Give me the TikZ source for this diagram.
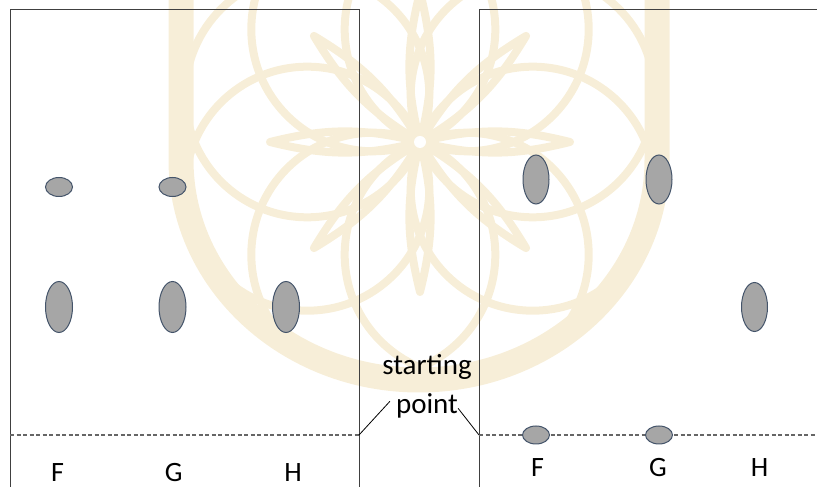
\documentclass[tikz,border=0pt]{standalone}
\usepackage{fontspec}
\setmainfont{Carlito}
\usetikzlibrary{shapes.geometric}
\definecolor{spotfill}{RGB}{166,166,166}
\definecolor{spotline}{RGB}{68,84,106}
\definecolor{seed}{RGB}{247,238,216}

\begin{document}
\begin{tikzpicture}[x=1pt, y=1pt,
    spot/.style={ellipse, draw=spotline, fill=spotfill, line width=1pt, inner sep=0pt},
    lane/.style={draw=black!75, line width=0.8pt},
    front/.style={draw=black!60, line width=1.4pt, dash pattern=on 4pt off 2.5pt},
    lbl/.style={font=\fontsize{28}{30}\selectfont, anchor=base, inner sep=0pt},
    seedline/.style={draw=seed, line width=8pt, line join=round}]
\useasboundingbox (0,0) rectangle (817,487);

% seed of life in the back
\begin{scope}
\clip (0,0) rectangle (817,487);
\draw[draw=seed, line width=25pt] (181,497) -- (181,327)
    arc[start angle=180, end angle=360, x radius=238, y radius=220] -- (657,497);
\foreach \a in {22.5,67.5,...,337.5}
    \draw[seedline] (420,345) ++(\a:122) circle[radius=122];
\foreach \a in {0,45,...,315}
    \draw[seedline] (420,345) to[bend left=14] ++(\a:150) to[bend left=14] (420,345);
\fill[seed] (420,345) circle[radius=13];
\fill[white] (420,345) circle[radius=6];
\end{scope}

% the two plates, open at the bottom
\draw[lane] (10,0) -- (10,478) -- (359,478) -- (359,0);
\draw[lane] (479,0) -- (479,478) -- (817,478);

\coordinate (lc) at (359,52);
\coordinate (rc) at (479,52);
\draw[front] (10,52) -- (lc);
\draw[front] (rc) -- (817,52);

% left plate
\node[spot, minimum width=27pt, minimum height=19pt] (lf1) at (59,300) {};
\node[spot, minimum width=27pt, minimum height=19pt] (lg1) at (172.5,300) {};
\node[spot, minimum width=27pt, minimum height=51pt] (lf2) at (59,180) {};
\node[spot, minimum width=27pt, minimum height=51pt] (lg2) at (172.5,180) {};
\node[spot, minimum width=27pt, minimum height=51pt] (lh2) at (286,180) {};
\node[lbl] (lF) at (57.5,5.5) {F};
\node[lbl] (lG) at (173.7,5.5) {G};
\node[lbl] (lH) at (293,5.5) {H};

% right plate
\node[spot, minimum width=26pt, minimum height=49pt] (rf1) at (536,307.5) {};
\node[spot, minimum width=26pt, minimum height=49pt] (rg1) at (659,307.5) {};
\node[spot, minimum width=26pt, minimum height=49pt] (rh1) at (754.5,180) {};
\node[spot, minimum width=27pt, minimum height=18pt] (rf0) at (536,52) {};
\node[spot, minimum width=27pt, minimum height=18pt] (rg0) at (659,52) {};
\node[lbl] (rF) at (537.5,10.3) {F};
\node[lbl] (rG) at (658,10.3) {G};
\node[lbl] (rH) at (759.5,10.3) {H};

% start label
\node[lbl, font=\fontsize{29}{31}\selectfont] (start) at (427,112) {starting};
\node[lbl, font=\fontsize{29}{31}\selectfont] (pt) at (427,73) {point};
\draw[line width=0.8pt] (lc) -- ([xshift=-6pt,yshift=5pt]pt.west);
\draw[line width=0.8pt] ([yshift=-2pt]pt.east) -- (rc);
\end{tikzpicture}
\end{document}
